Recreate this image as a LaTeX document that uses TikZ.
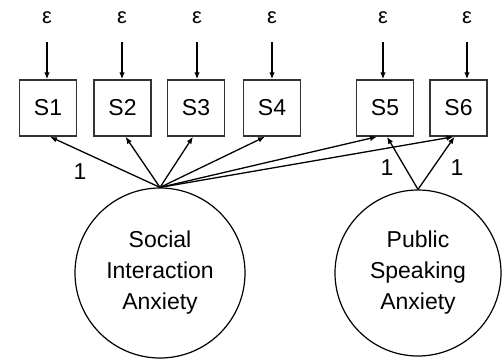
\documentclass[tikz,border=0pt]{standalone}
\usepackage{fontspec}
\setmainfont{Liberation Sans}
\usetikzlibrary{arrows.meta,positioning,calc}

\begin{document}
\begin{tikzpicture}[x=1pt,y=-1pt,
  obs/.style={draw=black!80,line width=1.5pt,minimum width=57pt,minimum height=56pt,inner sep=0pt,font=\fontsize{23}{28}\selectfont},
  lat/.style={draw,circle,line width=1.2pt,align=center,inner sep=0pt,font=\fontsize{23}{31}\selectfont},
  err/.style={inner sep=0pt,font=\fontsize{22}{28}\selectfont},
  load/.style={-{Latex[length=7pt,width=5.5pt]},line width=1.3pt},
  wt/.style={inner sep=0pt,font=\fontsize{23}{28}\selectfont}]
\useasboundingbox (0,0) rectangle (504,360);
% observed scales
\node[obs] (S1) at (48,108) {S1};
\node[obs] (S2) at (122.5,108) {S2};
\node[obs] (S3) at (196,108) {S3};
\node[obs] (S4) at (272,108) {S4};
\node[obs] (S5) at (385,108) {S5};
\node[obs] (S6) at (458.5,108) {S6};
% error terms
\node[err] (e1) at (47,18) {ε};
\node[err] (e2) at (122,18) {ε};
\node[err] (e3) at (197,18) {ε};
\node[err] (e4) at (272,18) {ε};
\node[err] (e5) at (383,18) {ε};
\node[err] (e6) at (467,18) {ε};
\foreach \i in {1,...,6}
  \draw[load, shorten <=18pt] (e\i) -- (e\i |- S\i.north);
% latent factors
\node[lat, minimum size=170pt] (SIA) at (160,273) {Social\\Interaction\\Anxiety};
\node[lat, minimum size=166pt] (PSA) at (418,273) {Public\\Speaking\\Anxiety};
% loadings
\draw[load] (SIA.north) -- ($(S1.south)+(2,0)$);
\draw[load] (SIA.north) -- ($(S2.south)+(3,0)$);
\draw[load] (SIA.north) -- ($(S3.south)+(-3,0)$);
\draw[load] (SIA.north) -- ($(S4.south)+(-7,0)$);
\draw[load] (SIA.north) -- ($(S5.south)+(-8,0)$);
\draw[load] (SIA.north) -- ($(S6.south)+(-5,0)$);
\draw[load] (PSA.north) -- ($(S5.south)+(2,0)$);
\draw[load] (PSA.north) -- ($(S6.south)+(-4,0)$);
% fixed loadings
\node[wt] (w1) at (80,172) {1};
\node[wt] (w5) at (387,168) {1};
\node[wt] (w6) at (457,168) {1};
\end{tikzpicture}
\end{document}
